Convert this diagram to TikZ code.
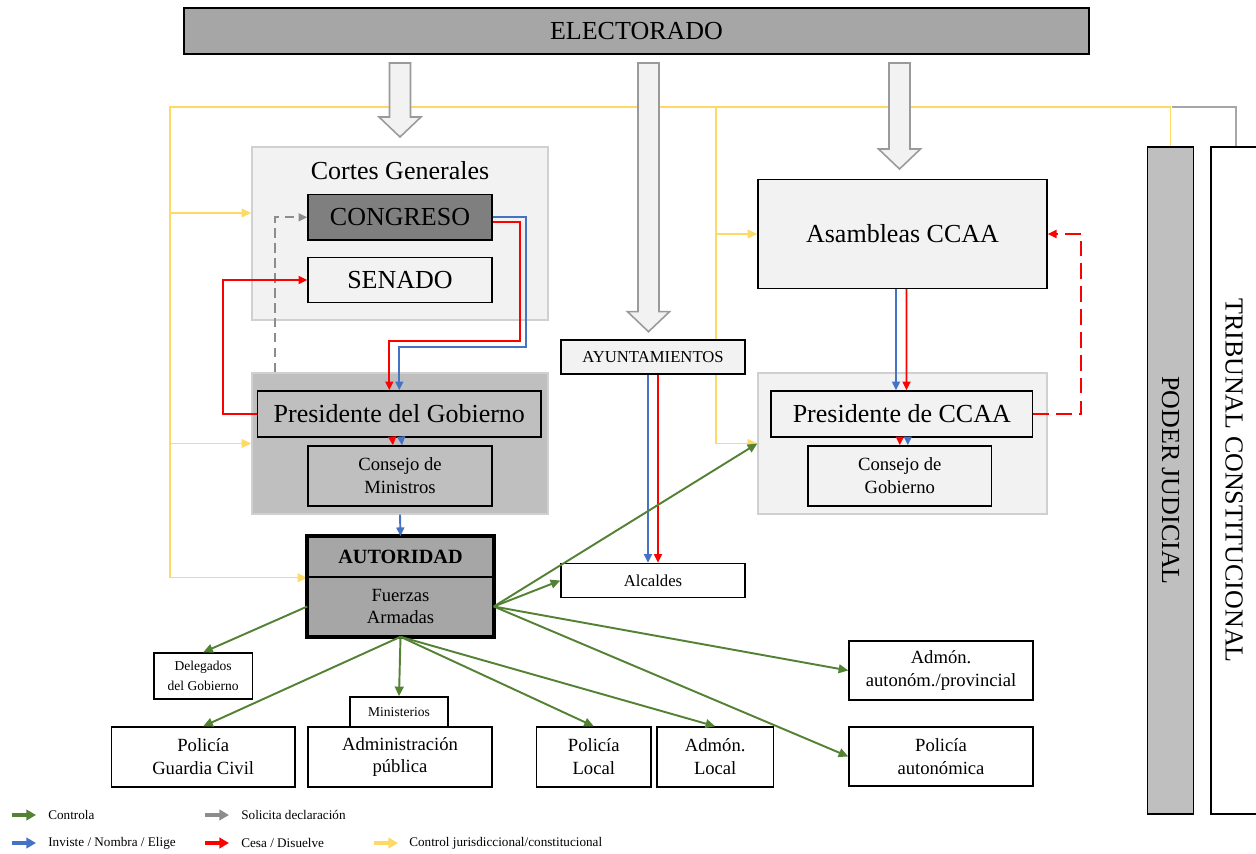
\documentclass[tikz,border=0pt]{standalone}
\usepackage{fontspec}
\setmainfont{Liberation Serif}
\usetikzlibrary{arrows.meta,calc,backgrounds}
\definecolor{ctrlgreen}{HTML}{548235}
\definecolor{invblue}{HTML}{4472C4}
\definecolor{cesared}{HTML}{FF0000}
\definecolor{jurisyellow}{HTML}{FFD966}
\definecolor{solgray}{HTML}{8C8C8C}
\definecolor{tcgray}{HTML}{A6A6A6}
\definecolor{votegray}{HTML}{9A9A9A}
\definecolor{areagray}{HTML}{D0D0D0}
\definecolor{boxlight}{HTML}{F2F2F2}
\definecolor{boxmid}{HTML}{BFBFBF}
\definecolor{boxdark}{HTML}{A6A6A6}
\definecolor{boxdarker}{HTML}{7F7F7F}
\newcommand{\bigtxt}{\fontsize{14.8}{17}\selectfont}
\newcommand{\midtxt}{\fontsize{10.6}{13}\selectfont}
\newcommand{\aytotxt}{\fontsize{9.5}{11}\selectfont}
\newcommand{\smltxt}{\fontsize{7.7}{11.4}\selectfont}
\newcommand{\legtxt}{\fontsize{7.5}{9}\selectfont}
% hollow arrow from the electorate: x centre, top, tip (px)
\newcommand{\votearrow}[3]{%
  \draw[votebox] ({#1-10.5},#2) -- ({#1+10.5},#2) -- ({#1+10.5},{#3-20}) -- ({#1+21},{#3-20})
    -- (#1,#3) -- ({#1-21},{#3-20}) -- ({#1-10.5},{#3-20}) -- cycle;}

\begin{document}
\begin{tikzpicture}[x=0.02cm, y=-0.02cm,
    box/.style={draw=black, line width=0.8pt, align=center, inner sep=1pt},
    area/.style={draw=areagray, line width=0.8pt},
    sz/.style 2 args={minimum width=#1*0.02cm, minimum height=#2*0.02cm},
    ctrl/.style={draw=ctrlgreen, line width=1.1pt, -{Triangle[length=5.5pt,width=5pt]}},
    inv/.style={draw=invblue, line width=1.1pt, -{Triangle[length=5pt,width=4.5pt]}},
    cesa/.style={draw=cesared, line width=1.1pt, -{Triangle[length=5pt,width=4.5pt]}},
    solic/.style={draw=solgray, line width=1.1pt, dash pattern=on 5.5pt off 3pt, -{Triangle[length=5pt,width=4.5pt]}},
    juris/.style={draw=jurisyellow, line width=0.6pt},
    jurarrow/.style={juris, -{Triangle[length=5.5pt,width=5pt]}},
    votebox/.style={draw=votegray, fill=boxlight, line width=0.9pt},
    legarrow/.style={line width=2.3pt, -{Triangle[length=5.5pt,width=6pt]}},
    legtext/.style={anchor=west, font=\legtxt, inner sep=0pt}]
  \useasboundingbox (0,0) rectangle (1256,854);

  \node[box, fill=boxdark, sz={905}{46}, font=\bigtxt] (elec) at (636.5,31) {ELECTORADO};

  % Cortes y Gobierno
  \node[area, fill=boxlight, sz={296}{173}] (cortes) at (400,233.5) {};
  \node[font=\bigtxt] (cgtit) at (400,171) {Cortes Generales};
  \node[box, fill=boxdarker, sz={184}{45.5}, font=\bigtxt] (congreso) at (400,217.3) {CONGRESO};
  \node[box, fill=boxlight, sz={184}{45}, font=\bigtxt] (senado) at (400,280) {SENADO};
  \node[area, fill=boxmid, sz={296}{141}] (gob) at (400,443.5) {};
  \node[box, fill=boxmid, sz={283.5}{46}, font=\bigtxt] (pgob) at (399.3,414) {Presidente del Gobierno};
  \node[box, fill=boxmid, sz={184}{60}, font=\midtxt] (cmin) at (400,476) {Consejo de\\Ministros};
  \node[box, line width=0.9pt, fill=boxdark, sz={185}{40}, font=\fontsize{11.5}{13}\selectfont\bfseries] (autt) at (400.5,557) {AUTORIDAD};
  \node[box, line width=0.9pt, fill=boxdark, sz={185}{59}, font=\midtxt] (fuer) at (400.5,606.5) {Fuerzas\\Armadas};
  \draw[line width=2pt] (autt.north west) rectangle (fuer.south east);

  % Ayuntamientos
  \node[box, fill=boxlight, sz={184}{34}, font=\aytotxt] (ayto) at (653,357) {AYUNTAMIENTOS};
  \node[box, fill=white, sz={184}{34}, font=\aytotxt] (alc) at (653,580.5) {Alcaldes};

  % Comunidades autonomas
  \node[box, fill=boxlight, sz={289}{109}, font=\bigtxt] (asam) at (902.5,234) {Asambleas CCAA};
  \node[area, fill=boxlight, sz={289}{141}] (ccaa) at (902.5,443.5) {};
  \node[box, fill=boxlight, sz={261.5}{46}, font=\bigtxt] (pccaa) at (901.8,414) {Presidente de CCAA};
  \node[box, fill=boxlight, sz={183.5}{60}, font=\midtxt] (cgob) at (899.8,476) {Consejo de\\Gobierno};

  % poder judicial
  \node[box, fill=boxmid, sz={46}{667}] (pj) at (1170.5,480.5) {};
  \node[rotate=-90, font=\bigtxt] (pjtxt) at (pj) {PODER JUDICIAL};
  \node[box, fill=white, sz={50}{667}] (tc) at (1236,480.5) {};
  \node[rotate=-90, font=\bigtxt] (tctxt) at ($(tc)+(-2,0)$) {TRIBUNAL CONSTITUCIONAL};

  % administracion
  \node[box, sz={98.5}{46}, font=\smltxt] (deleg) at (203.2,676) {Delegados\\del Gobierno};
  \node[box, sz={98}{29.5}, font=\smltxt] (minis) at (399,711.7) {Ministerios};
  \node[box, sz={183.5}{60}, font=\midtxt] (gc) at (203.2,757) {Policía\\Guardia Civil};
  \node[box, sz={184}{60}, font=\midtxt] (adpub) at (400,757) {Administración\\pública};
  \node[box, sz={114.5}{60}, font=\midtxt] (polloc) at (593.8,757) {Policía\\Local};
  \node[box, sz={116.5}{60}, font=\midtxt] (admloc) at (715.2,757) {Admón.\\Local};
  \node[box, sz={184}{59}, font=\midtxt] (admaut) at (941,670.5) {Admón.\\autonóm./provincial};
  \node[box, sz={184}{59}, font=\midtxt] (polaut) at (941,756.5) {Policía\\autonómica};

  \begin{scope}[on background layer]
    \draw[juris] (pj.north) |- (170,107) -- (autt.south west -| 170,0);
    \draw[jurarrow] ($(cortes.west)+(-82,-20.5)$) -- ($(cortes.west)+(0,-20.5)$);
    \draw[jurarrow] (gob.west -| 170,0) -- (gob.west);
    \draw[jurarrow] (autt.south west -| 170,0) -- (autt.south west);
    \draw[juris] (716,107) -- (ccaa.west -| 716,0);
    \draw[jurarrow] (asam.west -| 716,0) -- (asam.west);
    \draw[jurarrow] (ccaa.west -| 716,0) -- (ccaa.west);
    \draw[draw=tcgray, line width=0.6pt] (1172,107) -| (tc.north);
  \end{scope}

  \votearrow{400}{63}{137}
  \votearrow{648.5}{63}{331.7}
  \votearrow{899.5}{63}{169}

  \draw[solic] ($(gob.north west)+(24,0)$) |- (congreso.west);
  \draw[inv] (congreso.east) -| (526,347) -| (pgob.north);
  \draw[cesa] ($(congreso.east)+(0,5)$) -| (520,341) -| ($(pgob.north)+(-10,0)$);
  \draw[cesa] (pgob.west) -| ($(senado.west)+(-84,0)$) -- (senado.west);
  \draw[cesa] ($(pgob.south)+(-7,0)$) -- ($(cmin.north)+(-7,0)$);
  \draw[inv] ($(pgob.south)+(2,0)$) -- ($(cmin.north)+(2,0)$);
  \draw[inv] (gob.south) -- (autt.north);
  \draw[inv] ($(ayto.south)+(-5,0)$) -- ($(alc.north)+(-5,0)$);
  \draw[cesa] ($(ayto.south)+(5,0)$) -- ($(alc.north)+(5,0)$);
  \draw[inv] ($(asam.south)+(-6.5,0)$) -- ($(pccaa.north)+(-5.8,0)$);
  \draw[cesa] ($(asam.south)+(4,0)$) -- ($(pccaa.north)+(4.7,0)$);
  \draw[cesa] (cgob.north |- pccaa.south) -- (cgob.north);
  \draw[inv] ($(cgob.north |- pccaa.south)+(8,0)$) -- ($(cgob.north)+(8,0)$);
  \draw[cesa, dash pattern=on 9pt off 4pt] (pccaa.east) -- ++(48,0) |- (asam.east);

  \draw[ctrl] (fuer.east) -- (ccaa.west);
  \draw[ctrl] (fuer.east) -- (alc.west);
  \draw[ctrl] (fuer.east) -- (admaut.west);
  \draw[ctrl] (fuer.east) -- (polaut.west);
  \draw[ctrl] (fuer.west) -- (deleg.north);
  \draw[ctrl] (fuer.south) -- (gc.north);
  \draw[ctrl] (fuer.south) -- (minis.north);
  \draw[ctrl] (fuer.south) -- (polloc.north);
  \draw[ctrl] (fuer.south) -- (admloc.north);

  % leyenda
  \coordinate (lgctrl) at (12,815);
  \coordinate (lgsolic) at (205,815);
  \coordinate (lginv) at (12,843);
  \coordinate (lgcesa) at (205,843);
  \coordinate (lgjur) at (374,843);
  \draw[legarrow, ctrlgreen] (lgctrl) -- ++(24,0);
  \draw[legarrow, solgray] (lgsolic) -- ++(24,0);
  \draw[legarrow, invblue] (lginv) -- ++(24,0);
  \draw[legarrow, cesared] (lgcesa) -- ++(24,0);
  \draw[legarrow, jurisyellow] (lgjur) -- ++(24,0);
  \node[legtext] (tctrl) at ($(lgctrl)+(36,0)$) {Controla};
  \node[legtext] (tsolic) at ($(lgsolic)+(36,0)$) {Solicita declaración};
  \node[legtext] (tinv) at ($(lginv)+(36,0)$) {Inviste / Nombra / Elige};
  \node[legtext] (tcesa) at ($(lgcesa)+(36,0)$) {Cesa / Disuelve};
  \node[legtext] (tjur) at ($(lgjur)+(35,0)$) {Control jurisdiccional/constitucional};
\end{tikzpicture}
\end{document}
